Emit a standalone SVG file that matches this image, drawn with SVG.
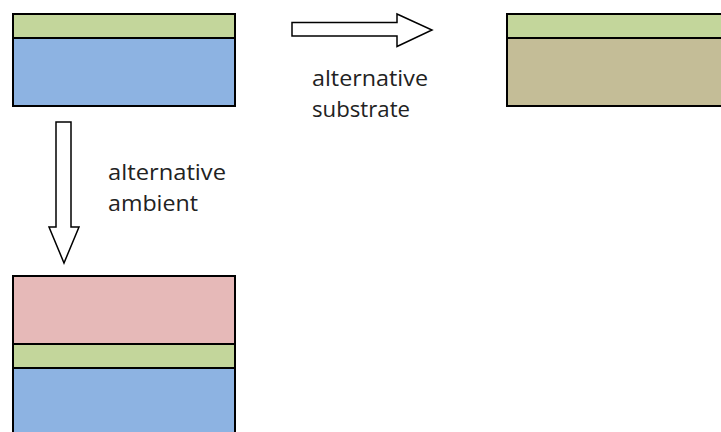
<svg xmlns="http://www.w3.org/2000/svg" width="721" height="432" viewBox="0 0 721 432">
<style>
.l{stroke:#000;stroke-width:2}
.g{fill:#c3d69b}.b{fill:#8db3e2}.t{fill:#c4bd97}.p{fill:#e6b9b8}
.a{fill:#fff;stroke:#000;stroke-width:1.5;stroke-linejoin:miter}
text{font-family:"Open Sans","Liberation Sans",sans-serif;font-size:21px;fill:#222}
</style>
<rect width="721" height="432" fill="#fff"/>
<g id="original">
<rect class="l g" x="13" y="14" width="222" height="24"/>
<rect class="l b" x="13" y="38" width="222" height="68"/>
</g>
<g id="substrate">
<rect class="l g" x="507" y="14" width="220" height="24"/>
<rect class="l t" x="507" y="38" width="220" height="68"/>
</g>
<g id="ambient">
<rect class="l p" x="13" y="276" width="222" height="68"/>
<rect class="l g" x="13" y="344" width="222" height="24"/>
<rect class="l b" x="13" y="368" width="222" height="70"/>
</g>
<g id="connectors">
<polygon class="a" points="292,22.5 397,22.5 397,14 432,30 397,46.5 397,36 292,36"/>
<polygon class="a" points="56,122 71,122 71,227 79,227 64,263 49,227 56,227"/>
</g>
<g id="labels">
<text x="312" y="86" textLength="116" lengthAdjust="spacingAndGlyphs">alternative</text>
<text x="312" y="117" textLength="98" lengthAdjust="spacingAndGlyphs">substrate</text>
<text x="108" y="180" textLength="118" lengthAdjust="spacingAndGlyphs">alternative</text>
<text x="108" y="211" textLength="90" lengthAdjust="spacingAndGlyphs">ambient</text>
</g>
</svg>
